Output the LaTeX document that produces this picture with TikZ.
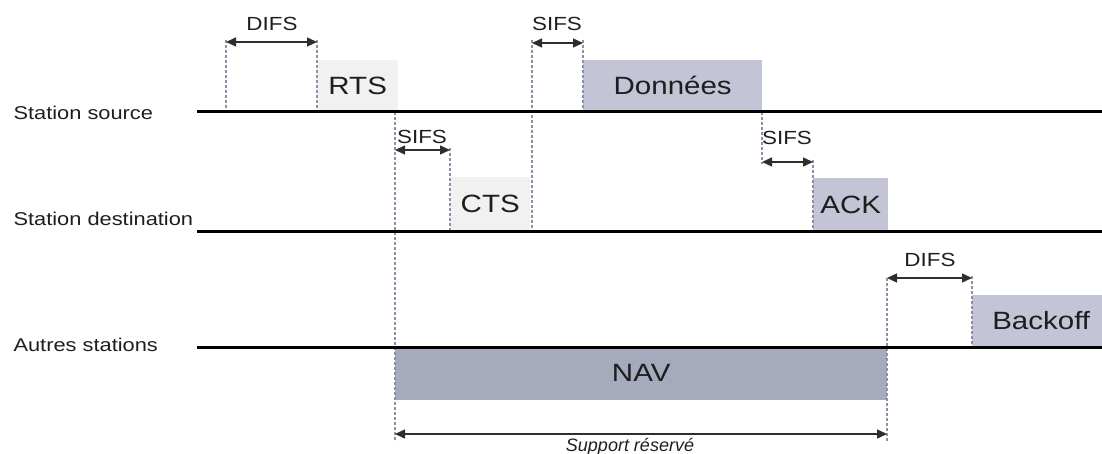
\documentclass[tikz,border=0pt]{standalone}
\usepackage{fontspec}
\setmainfont{Liberation Sans}
\usetikzlibrary{arrows.meta}
\definecolor{lightbox}{HTML}{F1F1F1}
\definecolor{midbox}{HTML}{C3C5D6}
\definecolor{navbox}{HTML}{A6AABD}
\definecolor{dashc}{HTML}{8A92A8}
\definecolor{txt}{HTML}{1E1E1E}
\definecolor{arrc}{HTML}{2E2E2E}
\newcommand{\wide}[1]{\scalebox{1.18}[1]{#1}}
\tikzset{
  timeline/.style={line width=3pt, black},
  guide/.style={dashc, line width=1.1pt, dash pattern=on 3pt off 2pt},
  span/.style={arrc, line width=1.4pt, {Triangle[length=10pt,width=9pt]}-{Triangle[length=10pt,width=9pt]}},
  frame/.style={anchor=south west, inner sep=0pt, draw=none},
  boxtext/.style={text=txt, font=\fontsize{25}{25}\selectfont},
  smalltext/.style={text=txt, font=\fontsize{19}{19}\selectfont},
  stationtext/.style={text=txt, anchor=west, font=\fontsize{18.5}{18.5}\selectfont},
}
\begin{document}
\begin{tikzpicture}[x=1pt,y=-1pt]
\useasboundingbox (0,0) rectangle (1102,454);
% frames
\node[frame, fill=lightbox, minimum width=81pt, minimum height=52pt] (rts) at (317,112) {};
\node[frame, fill=midbox, minimum width=179pt, minimum height=52pt] (data) at (583,112) {};
\node[frame, fill=lightbox, minimum width=80pt, minimum height=55pt] (cts) at (450,232) {};
\node[frame, fill=midbox, minimum width=75pt, minimum height=54pt] (ack) at (813,232) {};
\node[frame, fill=navbox, minimum width=492pt, minimum height=53pt] (nav) at (395,400) {};
\node[frame, fill=midbox, minimum width=130pt, minimum height=52pt] (backoff) at (972,347) {};
% frame labels
\node[boxtext] (trts) at (rts.center) {\wide{RTS}};
\node[boxtext] (tdata) at (data.center) {\wide{Données}};
\node[boxtext] (tcts) at (cts.center) {\wide{CTS}};
\node[boxtext] (tack) at (ack.center) {\wide{ACK}};
\node[boxtext] (tnav) at (nav.center) {\wide{NAV}};
\node[boxtext] (tbackoff) at ([xshift=4pt]backoff.center) {\wide{Backoff}};
% coordinates for guides
\coordinate (g1t) at (226,40);  \coordinate (g1b) at (226,112);
\coordinate (g2t) at (317,40);  \coordinate (g2b) at (317,112);
\coordinate (g3t) at (532,40);  \coordinate (g3b) at (532,232);
\coordinate (g4t) at (583,40);  \coordinate (g4b) at (583,112);
\coordinate (g5t) at (395,112); \coordinate (g5b) at (395,442);
\coordinate (g6t) at (450,148); \coordinate (g6b) at (450,232);
\coordinate (g7t) at (762,112); \coordinate (g7b) at (762,164);
\coordinate (g8t) at (813,160); \coordinate (g8b) at (813,232);
\coordinate (g9t) at (887,278); \coordinate (g9b) at (887,442);
\coordinate (g10t) at (972,276); \coordinate (g10b) at (972,347);
\foreach \i in {1,...,10} {\draw[guide] (g\i t) -- (g\i b);}
% timelines
\coordinate (s0) at (197,112); \coordinate (s1) at (1102,112);
\coordinate (d0) at (197,232); \coordinate (d1) at (1102,232);
\coordinate (o0) at (197,347); \coordinate (o1) at (1102,347);
\draw[timeline] (s0) -- (s1);
\draw[timeline] (d0) -- (d1);
\draw[timeline] (o0) -- (o1);
% station labels
\node[stationtext] (lsrc) at (10,113) {\wide{Station source}};
\node[stationtext] (ldst) at (10,219) {\wide{Station destination}};
\node[stationtext] (loth) at (10,345) {\wide{Autres stations}};
% spans
\coordinate (a1l) at (226,42); \coordinate (a1r) at (317,42);
\coordinate (a2l) at (532,43); \coordinate (a2r) at (583,43);
\coordinate (a3l) at (395,150); \coordinate (a3r) at (450,150);
\coordinate (a4l) at (762,162); \coordinate (a4r) at (813,162);
\coordinate (a5l) at (887,278); \coordinate (a5r) at (972,278);
\coordinate (a6l) at (395,434); \coordinate (a6r) at (887,434);
\draw[span] (a1l) -- (a1r);
\draw[span] (a2l) -- (a2r);
\draw[span] (a3l) -- (a3r);
\draw[span] (a4l) -- (a4r);
\draw[span] (a5l) -- (a5r);
\draw[span] (a6l) -- (a6r);
\node[smalltext] (difs1) at (272,24) {\wide{DIFS}};
\node[smalltext] (sifs1) at (557,24) {\wide{SIFS}};
\node[smalltext] (sifs2) at (422,137) {\wide{SIFS}};
\node[smalltext] (sifs3) at (787,138) {\wide{SIFS}};
\node[smalltext] (difs2) at (930,260) {\wide{DIFS}};
\node[smalltext, font=\fontsize{18}{18}\selectfont\itshape] (supp) at (630,447) {Support réservé};
\end{tikzpicture}
\end{document}
